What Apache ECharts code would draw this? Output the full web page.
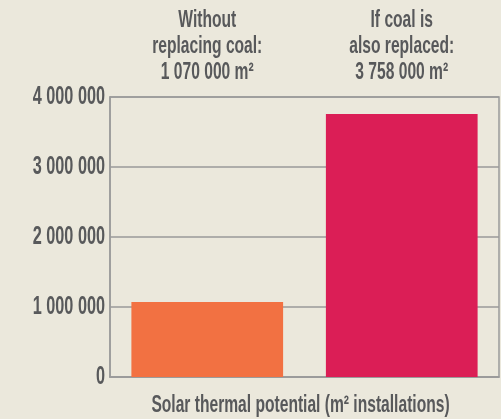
<!DOCTYPE html>
<html>
<head>
<meta charset="utf-8">
<script src="https://cdn.jsdelivr.net/npm/echarts@6/dist/echarts.min.js"></script>
<style>
  html, body { margin: 0; padding: 0; background: #ebe8dc; }
  #chart { width: 501px; height: 419px; }
</style>
</head>
<body>
<div id="chart"></div>
<script>
// Scenarios and their solar thermal potential (m²)
const scenarios = ['Without\nreplacing coal:', 'If coal is\nalso replaced:'];
const potential = [1070000, 3758000];
const barColors = ['#f27142', '#db1e56'];
const yTicks = [0, 1000000, 2000000, 3000000, 4000000];
const axisTitle = 'Solar thermal potential (m² installations)';

// Condensed lettering: a bold face squeezed horizontally
const FONT = '"Liberation Sans", Arial, sans-serif';
const SQUEEZE = 0.65;
const TEXT = '#58595b';
const LINE = '#9a9a9a';
const GRID = { left: 110, right: 2, top: 97, bottom: 42 };

function spaced(n) {
  return String(n).replace(/\B(?=(\d{3})+(?!\d))/g, ' ');
}

const chart = echarts.init(document.getElementById('chart'), null, { renderer: 'canvas' });
chart.setOption({
  backgroundColor: '#ebe8dc',
  animation: false,
  grid: Object.assign({
    outerBoundsMode: 'none',
    show: true, borderColor: LINE, borderWidth: 1.5, backgroundColor: 'transparent'
  }, GRID),
  xAxis: {
    type: 'category',
    data: scenarios,
    axisLine: { lineStyle: { color: LINE, width: 1.5 } },
    axisTick: { show: false },
    axisLabel: { show: false }
  },
  yAxis: {
    type: 'value',
    min: yTicks[0], max: yTicks[yTicks.length - 1], interval: 1000000,
    axisLine: { show: true, lineStyle: { color: LINE, width: 1.5 } },
    axisTick: { show: false },
    splitLine: { lineStyle: { color: LINE, width: 1.5 } },
    axisLabel: { show: false }
  },
  series: [{
    type: 'bar',
    barWidth: '78%',
    data: potential.map((v, i) => ({ value: v, itemStyle: { color: barColors[i] } }))
  }]
});

// Text is laid out against the axes' own pixel positions, then squeezed.
function squeezedText(x, y, text, size, align, vAlign, lineHeight) {
  return {
    type: 'text', x: x, y: y, scaleX: SQUEEZE, silent: true,
    style: {
      text: text, fill: TEXT,
      fontFamily: FONT, fontWeight: 'bold', fontSize: size,
      lineHeight: lineHeight || size,
      align: align, textAlign: align,
      verticalAlign: vAlign, textVerticalAlign: vAlign
    }
  };
}

const labels = [];
const yLabelX = GRID.left - 5;
yTicks.forEach(v => {
  const p = chart.convertToPixel({ gridIndex: 0 }, [0, v]);
  labels.push(squeezedText(yLabelX, p[1], spaced(v), 25, 'right', 'middle'));
});

const plotTop = chart.convertToPixel({ gridIndex: 0 }, [0, yTicks[yTicks.length - 1]])[1];
const plotBottom = chart.convertToPixel({ gridIndex: 0 }, [0, 0])[1];
scenarios.forEach((s, i) => {
  const x = chart.convertToPixel({ xAxisIndex: 0 }, i);
  const text = s + '\n' + spaced(potential[i]) + ' m²';
  labels.push(squeezedText(x, plotTop - 51, text, 24, 'center', 'middle', 26));
});

const plotLeft = GRID.left, plotRight = 501 - GRID.right;
labels.push(squeezedText((plotLeft + plotRight) / 2 - 4, plotBottom + 28, axisTitle, 24, 'center', 'middle'));

chart.setOption({ graphic: { elements: labels } });
</script>
</body>
</html>
